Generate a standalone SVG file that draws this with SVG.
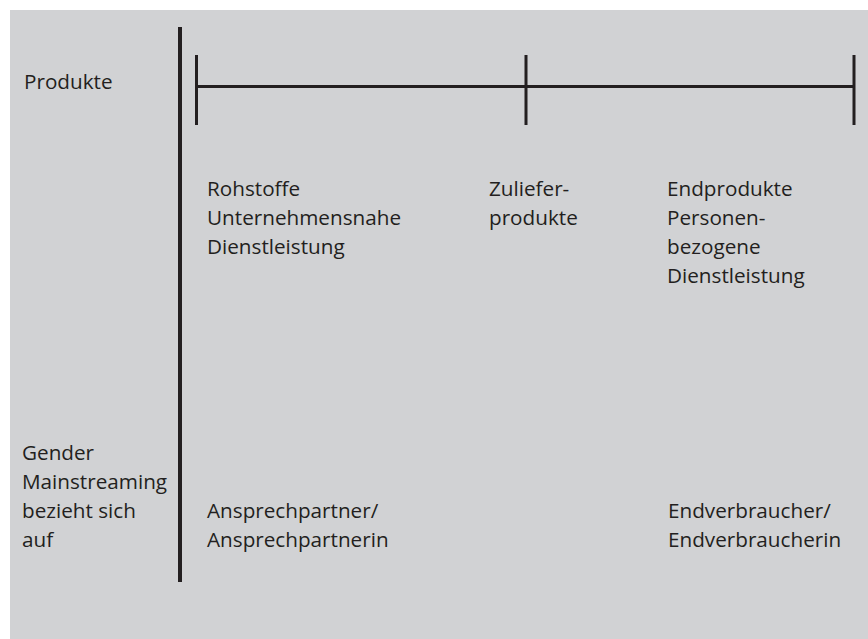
<svg xmlns="http://www.w3.org/2000/svg" width="868" height="639" viewBox="0 0 868 639">
<style>
.t{font-family:"Open Sans","Noto Sans","Liberation Sans",sans-serif;font-size:20.7px;fill:#231f20}
.ln{stroke:#231f20;fill:none}
</style>
<rect x="0" y="0" width="868" height="639" fill="#ffffff"/>
<rect x="10" y="10" width="858" height="629" fill="#d1d2d4"/>
<g id="axis" class="ln">
<line x1="180" y1="27" x2="180" y2="582" stroke-width="4"/>
<line x1="196" y1="86.5" x2="854" y2="86.5" stroke-width="3"/>
<line x1="196.5" y1="55" x2="196.5" y2="125" stroke-width="3"/>
<line x1="526" y1="55" x2="526" y2="125" stroke-width="3"/>
<line x1="854" y1="55" x2="854" y2="125" stroke-width="3"/>
</g>
<g id="row-labels">
<text class="t" x="24" y="89">Produkte</text>
<text class="t" x="22" y="460">Gender</text>
<text class="t" x="22" y="489">Mainstreaming</text>
<text class="t" x="22" y="518">bezieht sich</text>
<text class="t" x="22" y="547">auf</text>
</g>
<g id="n-rohstoffe">
<text class="t" x="207" y="196">Rohstoffe</text>
<text class="t" x="207" y="225">Unternehmensnahe</text>
<text class="t" x="207" y="254">Dienstleistung</text>
</g>
<g id="n-zuliefer">
<text class="t" x="489" y="196">Zuliefer-</text>
<text class="t" x="489" y="225">produkte</text>
</g>
<g id="n-endprodukte">
<text class="t" x="667" y="196">Endprodukte</text>
<text class="t" x="667" y="225">Personen-</text>
<text class="t" x="667" y="254">bezogene</text>
<text class="t" x="667" y="283">Dienstleistung</text>
</g>
<g id="n-ansprech">
<text class="t" x="207" y="518">Ansprechpartner/</text>
<text class="t" x="207" y="547">Ansprechpartnerin</text>
</g>
<g id="n-endverbraucher">
<text class="t" x="668" y="518">Endverbraucher/</text>
<text class="t" x="668" y="547">Endverbraucherin</text>
</g>
</svg>
